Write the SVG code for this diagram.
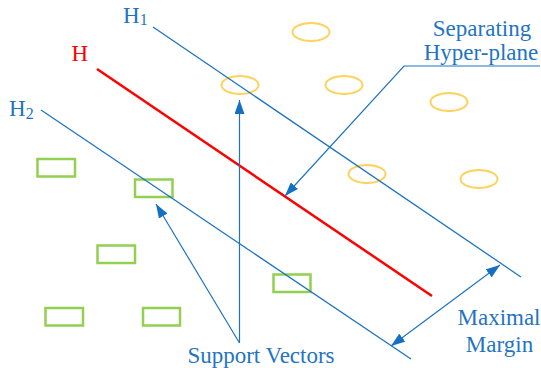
<svg xmlns="http://www.w3.org/2000/svg" width="541" height="368" viewBox="0 0 541 368">
  <style>
    .lbl { font-family: "Liberation Serif", "Times New Roman", serif; font-size: 23px; fill: #1f74c2; }
    .sub { font-size: 16px; }
    .plane { stroke: #1f74c2; stroke-width: 1.3; fill: none; }
    .pointer { stroke: #1f74c2; stroke-width: 1.2; fill: none; }
    .sv-pos { fill: none; stroke: #fdd35e; stroke-width: 2; }
    .sv-neg { fill: none; stroke: #92d050; stroke-width: 2.5; }
  </style>
  <defs>
    <marker id="tip" viewBox="0 0 14 10" refX="14" refY="5" markerWidth="14" markerHeight="10" markerUnits="userSpaceOnUse" orient="auto-start-reverse">
      <path d="M0,0 L14,5 L0,10 Z" fill="#1570c4"/>
    </marker>
  </defs>

  <rect width="541" height="368" fill="#ffffff"/>

  <!-- class +1 samples -->
  <g id="positives">
    <ellipse class="sv-pos" cx="311" cy="32" rx="18.5" ry="9"/>
    <ellipse class="sv-pos" cx="240" cy="85" rx="18.5" ry="9"/>
    <ellipse class="sv-pos" cx="344" cy="85" rx="18.5" ry="9"/>
    <ellipse class="sv-pos" cx="449" cy="102" rx="18.5" ry="9"/>
    <ellipse class="sv-pos" cx="367" cy="174" rx="18.5" ry="9"/>
    <ellipse class="sv-pos" cx="479" cy="179" rx="18.5" ry="9"/>
  </g>

  <!-- class -1 samples -->
  <g id="negatives">
    <rect class="sv-neg" x="37.5" y="159" width="37.5" height="17.5"/>
    <rect class="sv-neg" x="135" y="179.5" width="37.5" height="17.5"/>
    <rect class="sv-neg" x="97.5" y="245.5" width="37.5" height="17.5"/>
    <rect class="sv-neg" x="273.5" y="274.5" width="37" height="17.5"/>
    <rect class="sv-neg" x="45.5" y="308" width="37.5" height="17.5"/>
    <rect class="sv-neg" x="143" y="308" width="37" height="17.5"/>
  </g>

  <!-- hyperplanes -->
  <g id="planes">
    <line class="plane" x1="153" y1="27" x2="521" y2="277"/>
    <line x1="97" y1="69" x2="432" y2="296" stroke="#ff0000" stroke-width="2.5"/>
    <line class="plane" x1="41" y1="110" x2="411" y2="359"/>
  </g>

  <!-- connectors -->
  <g id="connectors">
    <polyline class="pointer" points="540,66 404,66 285,196" marker-end="url(#tip)"/>
    <line class="pointer" x1="239.5" y1="343" x2="239.5" y2="100" marker-end="url(#tip)"/>
    <line class="pointer" x1="239.5" y1="343" x2="156" y2="204" marker-end="url(#tip)"/>
    <line class="pointer" x1="391" y1="346" x2="500" y2="265" marker-start="url(#tip)" marker-end="url(#tip)"/>
  </g>

  <!-- labels -->
  <g id="labels">
    <text class="lbl" x="123" y="22.5">H<tspan class="sub" dy="2">1</tspan></text>
    <text class="lbl" x="71.5" y="61" fill="#ff0000" style="fill:#ff0000">H</text>
    <text class="lbl" x="9" y="115.5">H<tspan class="sub" dy="3">2</tspan></text>
    <text class="lbl" x="482" y="35.5" text-anchor="middle">Separating</text>
    <text class="lbl" x="481" y="59.5" text-anchor="middle">Hyper-plane</text>
    <text class="lbl" x="261" y="363" text-anchor="middle">Support Vectors</text>
    <text class="lbl" x="499" y="325" text-anchor="middle">Maximal</text>
    <text class="lbl" x="499.5" y="351.5" text-anchor="middle">Margin</text>
  </g>
</svg>
